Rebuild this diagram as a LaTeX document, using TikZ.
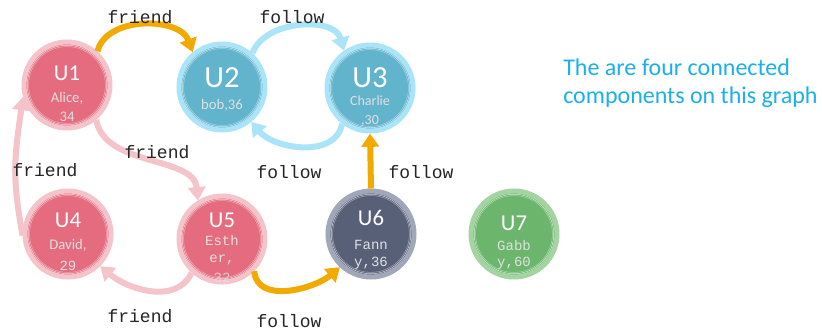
\documentclass[tikz,border=0pt]{standalone}
\usepackage{fontspec}
\setmainfont{Carlito}
\newfontfamily\monof{Liberation Mono}
\usetikzlibrary{arrows.meta}

\definecolor{pinkfill}{HTML}{E46C7E}
\definecolor{pinkhalo}{HTML}{F5C3CA}
\definecolor{bluefill}{HTML}{62B3CC}
\definecolor{bluehalo}{HTML}{A9E4F8}
\definecolor{slatefill}{HTML}{586077}
\definecolor{slatehalo}{HTML}{A0A7B8}
\definecolor{greenfill}{HTML}{6BB56C}
\definecolor{greenhalo}{HTML}{A3D4A2}
\definecolor{orangeedge}{HTML}{F2AA00}
\definecolor{noteblue}{HTML}{1BB0EA}

\tikzset{
  unode/.style n args={2}{circle, minimum size=64.5pt, inner sep=0pt,
    fill=#1, draw=#2, line width=3.75pt,
    path picture={
      \draw[white, opacity=.7, line width=.4pt]
        (path picture bounding box.center) circle[radius=29.8pt];
      \draw[white, opacity=.4, line width=.4pt]
        (path picture bounding box.center) circle[radius=28.8pt];
    }},
  pinknode/.style={unode={pinkfill}{pinkhalo}},
  bluenode/.style={unode={bluefill}{bluehalo}},
  slatenode/.style={unode={slatefill}{slatehalo}},
  greennode/.style={unode={greenfill}{greenhalo}},
  uname/.style={text=white, font=\fontsize{17pt}{17pt}\selectfont, inner sep=0pt},
  bigname/.style={text=white, font=\fontsize{23pt}{23pt}\selectfont, inner sep=0pt},
  info/.style={text=white!88!black, font=\fontsize{11pt}{11pt}\selectfont, inner sep=0pt},
  monoinfo/.style={text=white!88!black, font=\monof\fontsize{10.5pt}{10.5pt}\selectfont, inner sep=0pt},
  tip/.style={-{Triangle[length=10pt,width=13pt]}},
  orangeline/.style={tip, draw=orangeedge, line width=4.5pt},
  pinkline/.style={tip, draw=pinkhalo, line width=4.5pt},
  blueline/.style={tip, draw=bluehalo, line width=4.5pt},
  elabel/.style={text=black!85, font=\monof\fontsize{13.5pt}{13.5pt}\selectfont, inner sep=0pt},
}

\begin{document}
\begin{tikzpicture}[x=0.75pt, y=0.75pt]
  \useasboundingbox (0,0) rectangle (822,329);
  \fill[white] (0,0) rectangle (822,329);

  % user nodes
  \node[pinknode]  (u1) at (67,244) {};
  \node[bluenode]  (u2) at (222,242) {};
  \node[bluenode]  (u3) at (370,241) {};
  \node[pinknode]  (u4) at (68,95) {};
  \node[pinknode]  (u5) at (222,90) {};
  \node[slatenode] (u6) at (371,95) {};
  \node[greennode] (u7) at (514,95) {};

  % names and details inside the nodes
  \node[uname] (u1n) at ([yshift=9pt]u1.center) {U1};
  \node[info]  (u1a) at ([yshift=-9.75pt]u1.center) {Alice,};
  \node[info]  (u1b) at ([yshift=-24pt]u1.center) {34};

  \node[bigname] (u2n) at ([yshift=6.75pt]u2.center) {U2};
  \node[info]    (u2a) at ([yshift=-13.5pt]u2.center) {bob,36};

  \node[bigname] (u3n) at ([yshift=8pt]u3.center) {U3};
  \node[info, font=\fontsize{10.5pt}{10.5pt}\selectfont] (u3a) at ([yshift=-9.75pt]u3.center) {Charlie};
  \node[info, font=\fontsize{10.5pt}{10.5pt}\selectfont] (u3b) at ([yshift=-24.5pt]u3.center) {,30};

  \node[uname] (u4n) at ([yshift=10.5pt]u4.center) {U4};
  \node[info]  (u4a) at ([yshift=-8.25pt]u4.center) {David,};
  \node[monoinfo] (u4b) at ([yshift=-24pt]u4.center) {29};

  \node[uname]    (u5n) at ([yshift=14.25pt]u5.center) {U5};
  \node[monoinfo] (u5a) at ([yshift=-1pt]u5.center) {Esth};
  \node[monoinfo] (u5b) at ([yshift=-16pt]u5.center) {er,};
  \node[monoinfo, text opacity=.8] (u5c) at ([yshift=-29.5pt]u5.center) {32};

  \node[uname]    (u6n) at ([yshift=12pt]u6.center) {U6};
  \node[monoinfo] (u6a) at ([yshift=-8.25pt]u6.center) {Fann};
  \node[monoinfo] (u6b) at ([yshift=-21.75pt]u6.center) {y,36};

  \node[uname]    (u7n) at ([yshift=8.25pt]u7.center) {U7};
  \node[monoinfo] (u7a) at ([yshift=-8.25pt]u7.center) {Gabb};
  \node[monoinfo] (u7b) at ([yshift=-21.75pt]u7.center) {y,60};

  % relations
  \draw[orangeline] (u1.48) to[out=75, in=110] (u2.130);
  \draw[blueline]   (u2.48) to[out=70, in=105] (u3.125);
  \draw[blueline]   (u3.-128) to[out=-100, in=-50] (u2.-50);
  \draw[pinkline]   (u1.-50) .. controls +(-80:48) and +(95:45) .. (u5.122);
  \draw[pinkline]   (u4.182) to[out=100, in=262, looseness=1.15] (u1.195);
  \draw[pinkline]   (u5.-132) to[out=-115, in=-40] (u4.-45);
  \draw[orangeline] (u5.-45) to[out=-85, in=-140] (u6.-133);
  \draw[orangeline] (u6.north) -- (u3.south);

  % relation labels
  \node[elabel] (l12) at (140,312) {friend};
  \node[elabel] (l23) at (292,312) {follow};
  \node[elabel] (l15) at (157,177) {friend};
  \node[elabel] (l41) at (45,159) {friend};
  \node[elabel] (l32) at (289,157) {follow};
  \node[elabel] (l63) at (421,157) {follow};
  \node[elabel] (l54) at (140,13) {friend};
  \node[elabel] (l56) at (289,8) {follow};

  % note (base anchor sits on the second line)
  \node[text=noteblue, font=\fontsize{18pt}{21pt}\selectfont, align=left,
        anchor=base west, inner sep=0pt] (note) at (563,225)
        {The are four connected\\components on this graph};
\end{tikzpicture}
\end{document}
